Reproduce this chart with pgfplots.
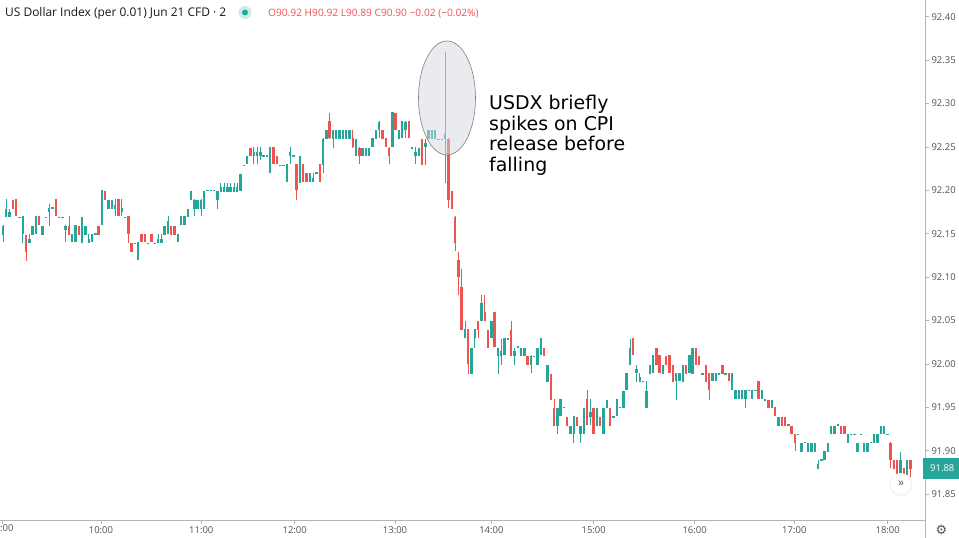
\documentclass[border=0pt]{standalone}
\usepackage{pgfplots}
\pgfplotsset{compat=1.18}
\usepackage{pgfplotstable}
\usepackage{fontspec}
\setmainfont{Open Sans}
\newfontfamily\djv{DejaVu Sans}
\definecolor{upc}{HTML}{26A69A}
\definecolor{dnc}{HTML}{EF5350}
\definecolor{axisc}{HTML}{B2B5BE}
\definecolor{labelc}{HTML}{50535E}
\definecolor{titlec}{HTML}{131722}
\definecolor{ellc}{HTML}{D6D9E0}
\pgfplotstableread{
i o h l c
0 92.15 92.16 92.14 92.16
1 92.17 92.19 92.17 92.18
2 92.17 92.18 92.17 92.175
3 92.19 92.19 92.18 92.18
4 92.19 92.19 92.17 92.17
5 92.17 92.17 92.17 92.17
6 92.15 92.17 92.14 92.17
7 92.15 92.15 92.12 92.13
8 92.14 92.15 92.14 92.145
9 92.15 92.16 92.15 92.16
10 92.15 92.17 92.15 92.17
11 92.17 92.17 92.16 92.16
12 92.15 92.16 92.15 92.16
13 92.17 92.17 92.17 92.17
14 92.175 92.185 92.16 92.18
15 92.18 92.18 92.18 92.18
16 92.19 92.19 92.17 92.17
17 92.17 92.17 92.17 92.17
18 92.17 92.17 92.17 92.17
19 92.155 92.16 92.14 92.16
20 92.16 92.17 92.15 92.15
21 92.14 92.15 92.14 92.15
22 92.14 92.16 92.14 92.16
23 92.16 92.16 92.15 92.15
24 92.14 92.17 92.14 92.17
25 92.15 92.16 92.15 92.16
26 92.14 92.15 92.14 92.145
27 92.14 92.15 92.14 92.15
28 92.15 92.15 92.15 92.15
29 92.16 92.16 92.15 92.15
30 92.16 92.20 92.16 92.20
31 92.20 92.20 92.19 92.19
32 92.18 92.19 92.18 92.19
33 92.18 92.19 92.18 92.19
34 92.18 92.19 92.17 92.185
35 92.19 92.19 92.17 92.17
36 92.175 92.19 92.17 92.18
37 92.17 92.17 92.17 92.17
38 92.17 92.17 92.14 92.15
39 92.14 92.14 92.13 92.13
40 92.14 92.14 92.14 92.14
41 92.12 92.14 92.12 92.14
42 92.15 92.15 92.14 92.14
43 92.15 92.15 92.14 92.14
44 92.14 92.14 92.14 92.14
45 92.15 92.15 92.14 92.14
46 92.14 92.14 92.14 92.14
47 92.14 92.15 92.14 92.145
48 92.14 92.15 92.14 92.145
49 92.15 92.16 92.15 92.16
50 92.15 92.17 92.15 92.165
51 92.16 92.16 92.15 92.15
52 92.16 92.16 92.15 92.15
53 92.14 92.15 92.14 92.15
54 92.16 92.17 92.16 92.17
55 92.16 92.17 92.16 92.17
56 92.17 92.18 92.17 92.18
57 92.19 92.20 92.19 92.20
58 92.18 92.19 92.17 92.19
59 92.18 92.19 92.18 92.19
60 92.18 92.19 92.17 92.19
61 92.18 92.20 92.18 92.20
62 92.20 92.20 92.20 92.20
63 92.20 92.20 92.20 92.20
64 92.20 92.20 92.20 92.20
65 92.19 92.20 92.18 92.20
66 92.20 92.21 92.20 92.205
67 92.20 92.21 92.20 92.205
68 92.20 92.21 92.20 92.205
69 92.20 92.21 92.20 92.205
70 92.20 92.21 92.20 92.205
71 92.20 92.21 92.20 92.205
72 92.20 92.22 92.20 92.22
73 92.23 92.23 92.23 92.23
74 92.23 92.24 92.23 92.24
75 92.25 92.25 92.24 92.24
76 92.24 92.25 92.23 92.245
77 92.24 92.25 92.23 92.245
78 92.24 92.25 92.235 92.245
79 92.24 92.24 92.24 92.24
80 92.24 92.24 92.24 92.24
81 92.22 92.25 92.22 92.25
82 92.25 92.25 92.23 92.23
83 92.24 92.24 92.23 92.23
84 92.23 92.23 92.23 92.23
85 92.23 92.23 92.23 92.23
86 92.21 92.23 92.21 92.23
87 92.24 92.25 92.23 92.245
88 92.24 92.24 92.24 92.24
89 92.23 92.23 92.19 92.20
90 92.21 92.24 92.21 92.24
91 92.23 92.23 92.21 92.21
92 92.22 92.22 92.21 92.21
93 92.21 92.22 92.21 92.22
94 92.21 92.22 92.21 92.215
95 92.22 92.22 92.22 92.22
96 92.23 92.23 92.21 92.21
97 92.23 92.26 92.22 92.26
98 92.26 92.27 92.26 92.27
99 92.28 92.29 92.26 92.26
100 92.26 92.27 92.25 92.27
101 92.26 92.27 92.26 92.27
102 92.26 92.27 92.26 92.27
103 92.26 92.27 92.26 92.27
104 92.26 92.27 92.26 92.27
105 92.26 92.27 92.26 92.27
106 92.26 92.27 92.25 92.25
107 92.24 92.26 92.24 92.26
108 92.25 92.25 92.23 92.24
109 92.24 92.25 92.24 92.25
110 92.24 92.25 92.24 92.25
111 92.24 92.25 92.24 92.25
112 92.25 92.26 92.25 92.26
113 92.26 92.27 92.26 92.27
114 92.27 92.28 92.26 92.28
115 92.27 92.27 92.26 92.26
116 92.26 92.26 92.25 92.25
117 92.25 92.25 92.23 92.24
118 92.25 92.29 92.25 92.29
119 92.29 92.29 92.27 92.27
120 92.26 92.27 92.26 92.27
121 92.26 92.28 92.26 92.28
122 92.27 92.28 92.26 92.28
123 92.28 92.28 92.26 92.26
124 92.25 92.25 92.25 92.25
125 92.24 92.25 92.23 92.245
126 92.24 92.25 92.24 92.25
127 92.26 92.26 92.23 92.23
128 92.25 92.26 92.23 92.255
129 92.26 92.27 92.26 92.27
130 92.26 92.27 92.26 92.27
131 92.26 92.27 92.26 92.27
132 92.26 92.26 92.26 92.26
133 92.26 92.26 92.26 92.26
134 92.26 92.36 92.21 92.265
135 92.26 92.26 92.18 92.19
136 92.20 92.20 92.18 92.18
137 92.17 92.17 92.13 92.14
138 92.12 92.13 92.08 92.10
139 92.09 92.11 92.04 92.04
140 92.03 92.05 92.03 92.04
141 92.04 92.04 91.99 92.00
142 91.99 92.02 91.99 92.02
143 92.03 92.04 92.02 92.04
144 92.05 92.05 92.03 92.04
145 92.05 92.08 92.05 92.07
146 92.06 92.08 92.05 92.05
147 92.04 92.04 92.02 92.02
148 92.03 92.05 92.03 92.05
149 92.06 92.06 92.02 92.02
150 92.01 92.02 91.99 92.02
151 92.01 92.03 92.00 92.015
152 92.01 92.03 92.01 92.03
153 92.03 92.03 92.03 92.03
154 92.04 92.05 92.01 92.01
155 92.01 92.02 92.00 92.015
156 92.02 92.02 92.02 92.02
157 92.01 92.02 92.01 92.02
158 92.01 92.02 92.01 92.02
159 92.01 92.01 92.00 92.00
160 92.00 92.01 91.99 92.01
161 92.01 92.01 92.01 92.01
162 92.00 92.02 92.00 92.02
163 92.01 92.03 92.01 92.03
164 92.02 92.02 92.01 92.01
165 91.98 92.00 91.98 92.00
166 91.99 91.99 91.96 91.96
167 91.95 91.96 91.93 91.93
168 91.93 91.95 91.92 91.95
169 91.94 91.96 91.94 91.96
170 91.95 91.95 91.95 91.95
171 91.94 91.94 91.93 91.93
172 91.92 91.93 91.92 91.93
173 91.92 91.94 91.91 91.94
174 91.94 91.94 91.93 91.93
175 91.92 91.93 91.91 91.93
176 91.92 91.95 91.92 91.95
177 91.96 91.97 91.93 91.93
178 91.94 91.96 91.93 91.945
179 91.95 91.95 91.92 91.92
180 91.93 91.95 91.93 91.95
181 91.94 91.94 91.93 91.93
182 91.92 91.95 91.92 91.95
183 91.95 91.96 91.95 91.96
184 91.95 91.95 91.93 91.93
185 91.94 91.94 91.94 91.94
186 91.94 91.96 91.94 91.96
187 91.95 91.95 91.95 91.95
188 91.95 91.97 91.95 91.97
189 91.97 91.99 91.97 91.99
190 92.00 92.03 92.00 92.02
191 92.03 92.03 92.01 92.01
192 91.99 92.00 91.98 91.995
193 91.98 91.99 91.98 91.985
194 91.98 91.98 91.98 91.98
195 91.95 91.98 91.95 91.97
196 91.99 92.00 91.99 92.00
197 91.99 92.01 91.99 92.01
198 92.02 92.02 92.00 92.00
199 92.01 92.01 91.99 91.99
200 91.99 92.00 91.99 92.00
201 92.01 92.01 92.00 92.00
202 92.01 92.01 91.99 91.99
203 92.00 92.00 91.98 91.98
204 91.98 91.99 91.96 91.99
205 91.98 91.99 91.98 91.99
206 91.98 92.00 91.98 92.00
207 92.00 92.00 91.99 91.99
208 91.99 92.01 91.99 92.01
209 91.99 92.02 91.99 92.02
210 92.02 92.02 92.00 92.00
211 92.01 92.01 92.00 92.00
212 91.99 91.99 91.99 91.99
213 92.00 92.00 91.98 91.98
214 91.99 91.99 91.96 91.97
215 91.98 91.99 91.98 91.99
216 91.98 91.99 91.98 91.99
217 91.99 91.99 91.99 91.99
218 92.00 92.00 91.99 91.99
219 91.99 91.99 91.99 91.99
220 91.99 91.99 91.98 91.98
221 91.97 91.99 91.97 91.99
222 91.96 91.97 91.96 91.97
223 91.96 91.97 91.96 91.97
224 91.96 91.97 91.96 91.97
225 91.96 91.97 91.95 91.97
226 91.97 91.97 91.97 91.97
227 91.96 91.97 91.96 91.97
228 91.97 91.97 91.97 91.97
229 91.98 91.98 91.96 91.96
230 91.96 91.97 91.96 91.97
231 91.96 91.96 91.96 91.96
232 91.96 91.96 91.95 91.95
233 91.95 91.96 91.95 91.96
234 91.95 91.95 91.94 91.94
235 91.93 91.94 91.93 91.94
236 91.94 91.94 91.93 91.93
237 91.94 91.94 91.93 91.93
238 91.93 91.93 91.93 91.93
239 91.93 91.93 91.92 91.92
240 91.92 91.92 91.90 91.91
241 91.92 91.92 91.92 91.92
242 91.90 91.91 91.90 91.91
243 91.91 91.91 91.91 91.91
244 91.90 91.91 91.90 91.91
245 91.90 91.91 91.90 91.91
246 91.90 91.91 91.90 91.91
247 91.88 91.89 91.88 91.885
248 91.89 91.89 91.89 91.89
249 91.89 91.90 91.89 91.90
250 91.90 91.91 91.90 91.91
251 91.92 91.93 91.92 91.93
252 91.92 91.93 91.92 91.93
253 91.93 91.93 91.93 91.93
254 91.93 91.93 91.92 91.92
255 91.93 91.93 91.92 91.92
256 91.91 91.92 91.91 91.92
257 91.92 91.92 91.92 91.92
258 91.92 91.92 91.92 91.92
259 91.90 91.91 91.90 91.91
260 91.92 91.92 91.92 91.92
261 91.90 91.91 91.90 91.91
262 91.90 91.91 91.90 91.91
263 91.91 91.91 91.91 91.91
264 91.91 91.92 91.91 91.92
265 91.91 91.92 91.91 91.92
266 91.92 91.93 91.92 91.93
267 91.92 91.93 91.92 91.93
268 91.92 91.92 91.92 91.92
269 91.91 91.91 91.88 91.89
270 91.89 91.89 91.88 91.88
271 91.89 91.89 91.87 91.87
272 91.87 91.90 91.87 91.89
273 91.88 91.88 91.87 91.87
274 91.87 91.89 91.87 91.89
275 91.89 91.89 91.87 91.88
}\candles
\pgfplotsset{candle/.style={draw=none, mark=none, forget plot,
  error bars/y dir=both, error bars/y explicit, error bars/error mark=none}}
\begin{document}
\begin{tikzpicture}
\fill[white] (0,0) rectangle (959bp,538bp);
\useasboundingbox (0,0) rectangle (959bp,538bp);
\begin{axis}[
  at={(0bp,18bp)}, anchor=south west,
  scale only axis, width=925bp, height=520bp,
  xmin=-0.9, xmax=279.4, ymin=91.8204, ymax=92.4192,
  axis x line*=bottom, axis y line*=right,
  axis line style={draw=axisc, line width=0.8bp, -},
  xtick={-0.1,29.7,60.1,88.4,118.8,148.0,179.0,209.6,239.8,268.1},
  xticklabels={,10:00,11:00,12:00,13:00,14:00,15:00,16:00,17:00,18:00},
  ytick={91.85,91.90,91.95,92.00,92.05,92.10,92.15,92.20,92.25,92.30,92.35,92.40},
  yticklabels={91.85,91.90,91.95,92.00,92.05,92.10,92.15,92.20,92.25,92.30,92.35,92.40},
  tick align=outside, major tick length=4bp,
  tick style={draw=axisc, line width=0.8bp},
  tick label style={font=\fontsize{9.5}{11}\selectfont, text=labelc},
  yticklabel style={anchor=west, xshift=-1bp},
  xticklabel style={anchor=north, yshift=1bp},
  minor tick num=0,
]
% wicks
\addplot[candle, restrict expr to domain={\thisrow{c}-\thisrow{o}}{0:1},
  error bars/error bar style={draw=upc, line width=0.9bp}]
  table[x=i, y expr={(\thisrow{h}+\thisrow{l})/2}, y error expr={(\thisrow{h}-\thisrow{l})/2}] {\candles};
\addplot[candle, restrict expr to domain={\thisrow{o}-\thisrow{c}}{0.001:1},
  error bars/error bar style={draw=dnc, line width=0.9bp}]
  table[x=i, y expr={(\thisrow{h}+\thisrow{l})/2}, y error expr={(\thisrow{h}-\thisrow{l})/2}] {\candles};
% bodies
\addplot[candle, restrict expr to domain={\thisrow{c}-\thisrow{o}}{0:1},
  error bars/error bar style={draw=upc, line width=2.4bp}]
  table[x=i, y expr={(\thisrow{o}+\thisrow{c})/2}, y error expr={max(abs(\thisrow{c}-\thisrow{o})/2,0.0006)}] {\candles};
\addplot[candle, restrict expr to domain={\thisrow{o}-\thisrow{c}}{0.001:1},
  error bars/error bar style={draw=dnc, line width=2.4bp}]
  table[x=i, y expr={(\thisrow{o}+\thisrow{c})/2}, y error expr={max(abs(\thisrow{c}-\thisrow{o})/2,0.0006)}] {\candles};
\end{axis}
% first (cut) time label as in the reference
\node[anchor=north west, inner sep=0, font=\fontsize{9.5}{11}\selectfont, text=labelc] at (0bp,13.2bp) {:00};
% axis extension
\draw[axisc, line width=0.8bp] (925bp,0) -- (925bp,18bp);
% price tag
\fill[upc] (923bp,59bp) rectangle (959bp,80bp);
\node[text=white, font=\fontsize{9.5}{11}\selectfont, anchor=west, inner sep=0] at (930bp,69.5bp) {91.88};
% scroll button
\fill[black!6] (901bp,53.5bp) circle (11.5bp);
\fill[white] (901bp,54bp) circle (10.5bp);
\node[text=labelc, font=\fontsize{12}{12}\selectfont, inner sep=0] at (901bp,54.5bp) {»};
% gear
\node[text=labelc, font=\djv\fontsize{13}{13}\selectfont, inner sep=0] at (941.5bp,8bp) {⚙};
% annotation ellipse
\draw[draw=black!50, line width=0.6bp, fill=ellc, fill opacity=0.5]
  (447bp,440bp) ellipse [x radius=28.5bp, y radius=57bp];
% annotation text
\begin{scope}[every node/.style={anchor=base west, inner sep=0, font=\djv\fontsize{19}{20}\selectfont, text=black}]
\node at (489bp,428bp) {USDX briefly};
\node at (489bp,407.5bp) {spikes on CPI};
\node at (489bp,387bp) {release before};
\node at (489bp,366.5bp) {falling};
\end{scope}
% header
\node[anchor=base west, inner sep=0, font=\fontsize{12}{14}\selectfont, text=titlec] at (5bp,521.5bp)
  {US Dollar Index (per 0.01) Jun 21 CFD · 2};
\fill[upc!22] (245bp,525.5bp) circle (6.5bp);
\fill[upc] (245bp,525.5bp) circle (3bp);
\node[anchor=base west, inner sep=0, font=\fontsize{10.2}{12}\selectfont, text=dnc] at (268bp,521.5bp)
  {O90.92 H90.92 L90.89 C90.90 −0.02 (−0.02\%)};
\end{tikzpicture}
\end{document}
